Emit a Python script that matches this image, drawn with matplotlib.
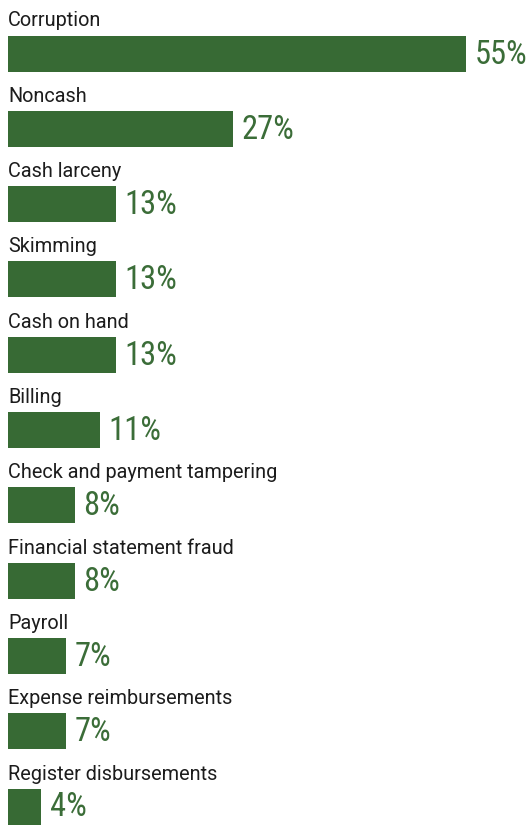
import matplotlib
matplotlib.use("Agg")
import matplotlib.pyplot as plt

categories = [
    "Corruption",
    "Noncash",
    "Cash larceny",
    "Skimming",
    "Cash on hand",
    "Billing",
    "Check and payment tampering",
    "Financial statement fraud",
    "Payroll",
    "Expense reimbursements",
    "Register disbursements",
]
values = [55, 27, 13, 13, 13, 11, 8, 8, 7, 7, 4]
value_labels = ["55%", "27%", "13%", "13%", "13%", "11%", "8%", "8%", "7%", "7%", "4%"]

BAR_COLOR = "#376a34"
VALUE_COLOR = "#3b6d38"
LABEL_COLOR = "#1c1c1c"

W, H, DPI = 530, 825, 100
fig = plt.figure(figsize=(W / DPI, H / DPI), dpi=DPI)
ax = fig.add_axes([8 / W, 0, 1 - 8 / W, 1])
ax.set_axis_off()

px_per_unit = 8.33          # pixels per percentage point
row_px = 75.3               # vertical pitch of one row
first_center_px = 53.5
ax.set_xlim(0, (W - 8) / px_per_unit)
ax.set_ylim((H - first_center_px) / row_px, -first_center_px / row_px)

ypos = list(range(len(categories)))
ax.barh(ypos, values, height=36 / row_px, color=BAR_COLOR, align="center")

for y, v, cat, lab in zip(ypos, values, categories, value_labels):
    ax.text(0, y - 27 / row_px, cat, fontsize=14.3, family=["Roboto", "DejaVu Sans"],
            color=LABEL_COLOR, ha="left", va="baseline")
    ax.annotate(lab, xy=(v, y), xytext=(6, -7.2), textcoords="offset points",
                fontsize=23.5, family=["Liberation Sans Narrow", "Roboto Condensed", "DejaVu Sans"],
                color=VALUE_COLOR, ha="left", va="baseline")

fig.savefig("out.png", dpi=DPI)
